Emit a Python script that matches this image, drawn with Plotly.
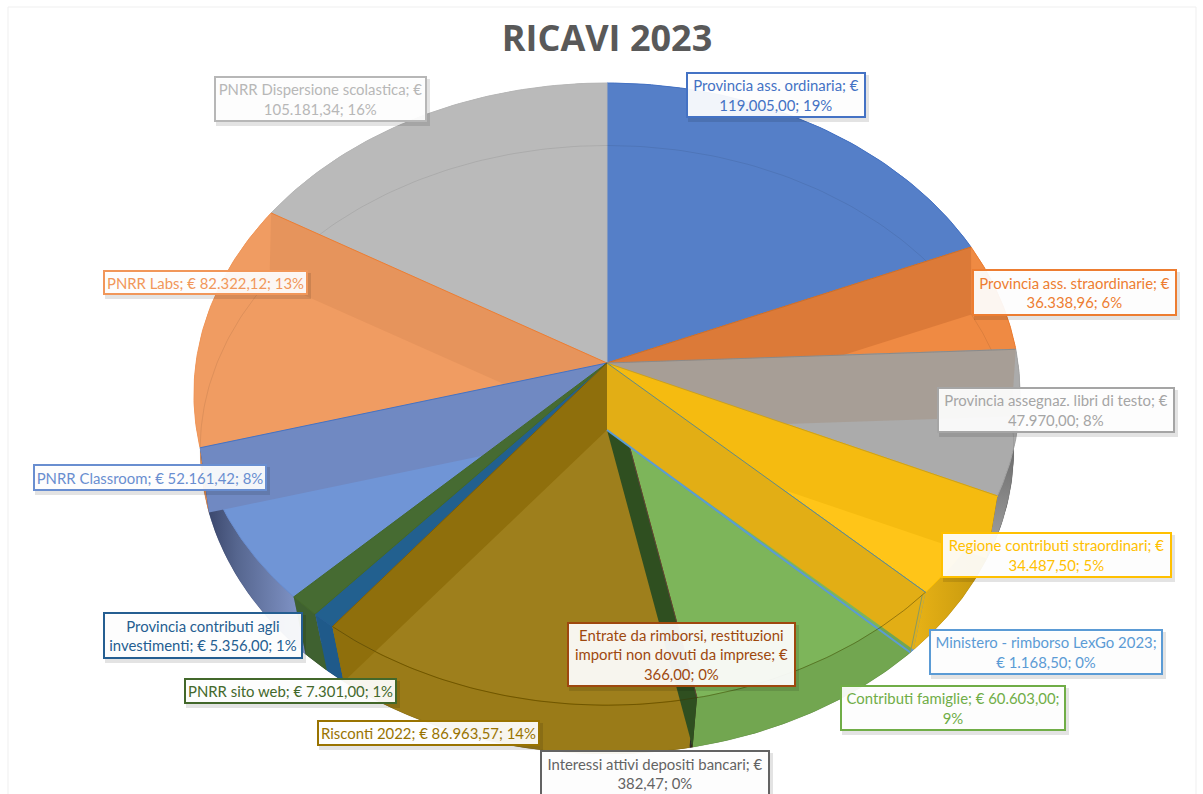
import textwrap
import numpy as np
import plotly.graph_objects as go

# ---------- data ----------
categories = ["Provincia ass. ordinaria", "Provincia ass. straordinarie", "Provincia assegnaz. libri di testo",
              "Regione contributi straordinari", "Ministero - rimborso LexGo 2023", "Contributi famiglie",
              "Entrate da rimborsi, restituzioni importi non dovuti da imprese", "Interessi attivi depositi bancari",
              "Risconti 2022", "Provincia contributi agli investimenti", "PNRR sito web",
              "PNRR Classroom", "PNRR Labs", "PNRR Dispersione scolastica"]
values = [119005.00, 36338.96, 47970.00, 34487.50, 1168.50, 60603.00, 366.00, 382.47,
          86963.57, 5356.00, 7301.00, 52161.42, 82322.12, 105181.34]
percents = [19, 6, 8, 5, 0, 9, 0, 0, 14, 1, 1, 8, 13, 16]
title_text = "RICAVI 2023"

# ---------- styles ----------
base_colors = ["#4472C4", "#ED7D31", "#A5A5A5", "#FFC000", "#5B9BD5", "#70AD47", "#9E480E", "#636363",
               "#997300", "#255E91", "#43682B", "#698ED0", "#F1975A", "#B7B7B7"]
top_colors = ["#557FC8", "#EF8A43", "#ABABAB", "#FFC518", "#6BA5D9", "#7DB55A", "#A85A20", "#6E6E6E",
              "#9E7F1C", "#22608F", "#466B32", "#7095D6", "#F09C62", "#BABABA"]
side_colors = ["#4A6BAF", "#D06F2C", "#4A4A4A", "#D9A513", "#5B9BD5", "#72A650", "#3A2A12", "#2B2B2B",
               "#9A7B18", "#1F5A8A", "#3F6130", "#5E71A6", "#D98850", "#A0A0A0"]
text_colors = list(base_colors)
wrap_widths = [30, 33, 40, 38, 33, 35, 34, 38, 60, 30, 60, 60, 60, 32]
boxes = [(686, 72, 866, 118), (972, 269, 1177, 316), (937, 387, 1175, 433), (941, 532, 1172, 578),
         (929, 629, 1163, 675), (840, 685, 1066, 731), (567, 622, 796, 687), (540, 750, 770, 797),
         (317, 720, 540, 746), (103, 612, 303, 659), (184, 678, 397, 704), (33, 464, 267, 491),
         (103, 270, 308, 295), (214, 76, 427, 122)]
lower_order = [0, 1, 2, 3, 4, 5, 6, 7, 13, 12, 11, 10, 9, 8]
# geometry of the perspective view of the two discs
CX, CY1, CY2 = 607, 363, 430
RX1, RY1, Q1 = 411, 308, 0.10
RX2, RY2, Q2 = 406, 303, 0.065


def top_pt(a):
    s = 1 / (1 + Q1 * np.cos(a))
    return CX + RX1 * np.sin(a) * s, CY1 - RY1 * np.cos(a) * s


def bot_pt(a):
    s = 1 / (1 + Q2 * np.cos(a))
    return CX + RX2 * np.sin(a) * s, CY2 - RY2 * np.cos(a) * s


def poly(fig, xs, ys, fill, line=None, width=0, gradient=None):
    kw = dict(fillgradient=gradient) if gradient else dict(fillcolor=fill)
    fig.add_trace(go.Scatter(x=list(xs), y=list(ys), mode="lines", fill="toself",
                             line=dict(color=line or "rgba(0,0,0,0)", width=width),
                             hoverinfo="skip", showlegend=False, **kw))


def stroke(fig, xs, ys, color, width=1):
    fig.add_trace(go.Scatter(x=list(xs), y=list(ys), mode="lines", line=dict(color=color, width=width),
                             hoverinfo="skip", showlegend=False))


vals = np.array(values)
cum = np.concatenate([[0], np.cumsum(vals)]) / vals.sum() * 2 * np.pi
fig = go.Figure()


def top_wedge(i):
    arc = np.linspace(cum[i], cum[i + 1], 60)
    tx, ty = top_pt(arc)
    poly(fig, np.r_[CX, tx, CX], np.r_[CY1, ty, CY1], top_colors[i], line=base_colors[i], width=1)


# lower disc and outer wall
for i in lower_order:
    arc = np.linspace(cum[i], cum[i + 1], 60)
    bx, by = bot_pt(arc)
    tx, ty = top_pt(arc)
    poly(fig, np.r_[CX, bx, CX], np.r_[CY2, by, CY2], side_colors[i])
    grad = None
    if i == 11:
        grad = dict(type="horizontal", colorscale=[[0, "#343F63"], [0.35, "#56668F"], [1, "#8498CC"]])
    elif i == 3:
        grad = dict(type="horizontal", colorscale=[[0, "#E8B216"], [1, "#BE930C"]])
    elif i == 2:
        grad = dict(type="vertical", colorscale=[[0, "#A5A5A5"], [1, "#3A3A3A"]])
    poly(fig, np.r_[tx, bx[::-1]], np.r_[ty, by[::-1]], side_colors[i], gradient=grad)

# upper disc
for i in range(len(vals)):
    top_wedge(i)

# rim of the lower disc seen through the glass
for i in range(len(vals)):
    arc = np.linspace(cum[i], cum[i + 1], 60)
    bx, by = bot_pt(arc)
    stroke(fig, bx, by, "rgba(0,0,0,0.08)", 1)


def wall(idx, color, line=None):
    a = cum[idx]
    p1, p2 = top_pt(a), bot_pt(a)
    poly(fig, [CX, p1[0], p2[0], CX, CX], [CY1, p1[1], p2[1], CY2, CY1], color)
    if line:
        stroke(fig, [CX, p1[0]], [CY1, p1[1]], line, 1)


# radial walls, back to front
wall(1, "#DC7A38", "#C8702F")
wall(2, "#A79E96", "#8A8A8A")
wall(3, "#F5BB10", "#C9A020")
wall(13, "#E6945C", "#ED7D31")
wall(12, "#7089C2", "#4472C4")
top_wedge(9)
top_wedge(10)
wall(9, "#8F6F0C", "#7A5F08")
wall(6, "#2F4F20", "#54483A")
wall(4, "#E2AE15", "#5F8A8A")
p2 = bot_pt(cum[5])
stroke(fig, [CX, p2[0]], [CY2, p2[1]], "#5B9BD5", 2)
p1 = top_pt(cum[5])
stroke(fig, [p1[0], p2[0]], [p1[1], p2[1]], "#8A9A60", 1)
# front edge of the upper disc
front = np.linspace(cum[4], cum[9], 120)
fx, fy = top_pt(front)
stroke(fig, fx, fy, "rgba(60,50,0,0.45)", 1)

# frame
shapes = [dict(type="rect", x0=8, y0=7, x1=1196, y1=800, line=dict(color="#EFEFEF", width=1), layer="below")]

# labels
annotations = []
for i, name in enumerate(categories):
    euro = f"{values[i]:,.2f}".replace(",", "#").replace(".", ",").replace("#", ".")
    text = "<br>".join(textwrap.wrap(f"{name}; € {euro}; {percents[i]}%", wrap_widths[i]))
    x0, y0, x1, y1 = boxes[i]
    shapes.append(dict(type="rect", x0=x0 + 2, y0=y0 + 3, x1=x1 + 3, y1=y1 + 4, layer="above",
                       fillcolor="rgba(0,0,0,0.11)", line=dict(width=0)))
    annotations.append(dict(x=(x0 + x1) / 2, y=(y0 + y1) / 2, xref="x", yref="y", text=text, showarrow=False,
                            xanchor="center", yanchor="middle", align="center",
                            width=x1 - x0 - 4, height=y1 - y0 - 4, borderpad=0,
                            bgcolor="rgba(255,255,255,0.93)", bordercolor=base_colors[i], borderwidth=2,
                            font=dict(family="Lato, 'Open Sans', sans-serif", size=14.9, color=text_colors[i])))

fig.update_layout(
    width=1203, height=794, margin=dict(l=0, r=0, t=0, b=0),
    paper_bgcolor="white", plot_bgcolor="white", showlegend=False,
    title=dict(text=f"<b>{title_text}</b>", x=607 / 1203, xanchor="center", y=1 - 38 / 794, yanchor="middle",
               font=dict(family="'Open Sans', Lato, sans-serif", size=36, color="#595959")),
    xaxis=dict(range=[0, 1203], visible=False, fixedrange=True),
    yaxis=dict(range=[794, 0], visible=False, fixedrange=True),
    shapes=shapes, annotations=annotations,
)
fig.write_html("out.html", config={"displayModeBar": False},
               post_script="document.body.style.margin='0';document.body.style.overflow='hidden';")
